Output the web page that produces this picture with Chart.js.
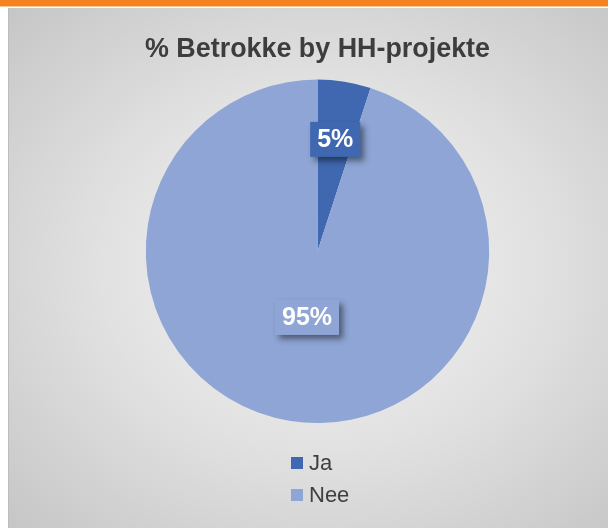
<!DOCTYPE html>
<html>
<head>
<meta charset="utf-8">
<script src="https://cdn.jsdelivr.net/npm/chart.js@4.4.1/dist/chart.umd.min.js"></script>
<style>
  html, body { margin: 0; padding: 0; background: #ffffff; }
  #wrap { position: relative; width: 608px; height: 528px; overflow: hidden; }
  #topbar { position: absolute; left: 0; top: 0; width: 608px; height: 6px; background: #f5821f; border-bottom: 1px solid #f8c597; }
  #panel { position: absolute; left: 8px; top: 8px; width: 600px; height: 520px;
    background: radial-gradient(ellipse at 52% 50%, #f4f4f4 0%, #e1e1e1 50%, #c6c6c6 100%);
    border-left: 1px solid #bdbdbd; box-sizing: border-box; }
  #chart { position: absolute; left: 0; top: 0; }
</style>
</head>
<body>
<div id="wrap">
  <div id="topbar"></div>
  <div id="panel"></div>
  <canvas id="chart" width="608" height="528"></canvas>
</div>
<script>
// === DATA ===
const categories = ['Ja', 'Nee'];
const values = [5, 95];
const valueLabels = ['5%', '95%'];
const sliceColors = ['#4068b0', '#8ea5d5'];

// label distance from centre (fraction of radius), per slice
const labelRadius = [0.66, 0.39];

// === PLUGIN: data labels with shadowed boxes ===
const boxLabels = {
  id: 'boxLabels',
  afterDatasetsDraw(chart) {
    const ctx = chart.ctx;
    const meta = chart.getDatasetMeta(0);
    ctx.save();
    ctx.font = 'bold 25px "Liberation Sans", Arial, sans-serif';
    ctx.textAlign = 'center';
    ctx.textBaseline = 'middle';
    meta.data.forEach((arc, i) => {
      const mid = (arc.startAngle + arc.endAngle) / 2;
      const r = arc.outerRadius * labelRadius[i];
      const x = arc.x + Math.cos(mid) * r;
      const y = arc.y + Math.sin(mid) * r;
      const txt = valueLabels[i];
      const w = ctx.measureText(txt).width + 14;
      const h = 35;
      ctx.save();
      ctx.shadowColor = 'rgba(0,0,0,0.45)';
      ctx.shadowBlur = 6;
      ctx.shadowOffsetX = 4;
      ctx.shadowOffsetY = 4;
      ctx.fillStyle = sliceColors[i];
      ctx.fillRect(x - w / 2, y - h / 2, w, h);
      ctx.restore();
      ctx.fillStyle = '#ffffff';
      ctx.fillText(txt, x, y + 1);
    });
    ctx.restore();
  }
};

// === PLUGIN: vertical legend at the bottom ===
const stackLegend = {
  id: 'stackLegend',
  afterDraw(chart) {
    const ctx = chart.ctx;
    ctx.save();
    ctx.font = '22px "Liberation Sans", Arial, sans-serif';
    ctx.textBaseline = 'middle';
    ctx.textAlign = 'left';
    chart.data.labels.forEach((lab, i) => {
      const y = 463 + i * 32;
      ctx.fillStyle = chart.data.datasets[0].backgroundColor[i];
      ctx.fillRect(291, y - 6, 12, 12);
      ctx.fillStyle = '#404040';
      ctx.fillText(lab, 309, y + 1);
    });
    ctx.restore();
  }
};

// === CHART ===
const ctx = document.getElementById('chart').getContext('2d');
new Chart(ctx, {
  type: 'pie',
  data: {
    labels: categories,
    datasets: [{
      data: values,
      backgroundColor: sliceColors,
      borderWidth: 0
    }]
  },
  options: {
    responsive: false,
    animation: false,
    layout: { padding: { left: 145, right: 118, top: 0, bottom: 105 } },
    plugins: {
      legend: { display: false },
      tooltip: { enabled: false },
      title: {
        display: true,
        text: '% Betrokke by HH-projekte',
        color: '#3d3d3d',
        font: { family: '"Liberation Sans", Arial, sans-serif', size: 28, weight: 'bold' },
        padding: { top: 32, bottom: 14 }
      }
    }
  },
  plugins: [boxLabels, stackLegend]
});
</script>
</body>
</html>
